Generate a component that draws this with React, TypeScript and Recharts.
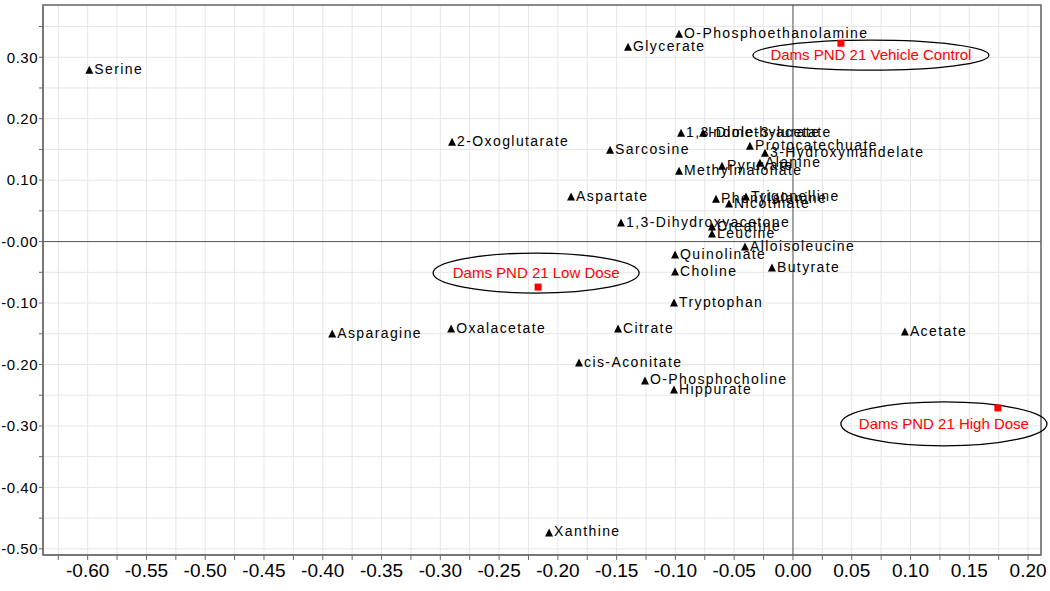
import React from 'react';
import { ScatterChart, Scatter, XAxis, YAxis, CartesianGrid, ReferenceLine, ReferenceArea } from 'recharts';

// loadings (metabolites)
const metabolites = [
  'Serine', 'O-Phosphoethanolamine', 'Glycerate', '2-Oxoglutarate', 'Sarcosine',
  '1,3-Dimethylurate', 'Indole-3-acetate', 'Protocatechuate', '3-Hydroxymandelate', 'Alanine',
  'Pyruvate', 'Methylmalonate', 'Aspartate', 'Phenylalanine', 'Trigonelline',
  'Nicotinate', '1,3-Dihydroxyacetone', 'Creatine', 'Leucine', 'Alloisoleucine',
  'Quinolinate', 'Choline', 'Butyrate', 'Tryptophan', 'Citrate',
  'Oxalacetate', 'Asparagine', 'cis-Aconitate', 'O-Phosphocholine', 'Hippurate',
  'Xanthine', 'Acetate',
];
const loadingX = [
  -0.5986, -0.0969, -0.1403, -0.29, -0.1556,
  -0.0952, -0.0765, -0.0366, -0.0238, -0.0281,
  -0.0604, -0.0969, -0.1888, -0.0655, -0.04,
  -0.0544, -0.1463, -0.0689, -0.0689, -0.0408,
  -0.1003, -0.1003, -0.0179, -0.1012, -0.1488,
  -0.2908, -0.392, -0.182, -0.1259, -0.1012,
  -0.2075, 0.0952,
];
const loadingY = [
  0.2789, 0.3374, 0.3163, 0.1618, 0.1488,
  0.1764, 0.1764, 0.1553, 0.1439, 0.1276,
  0.1228, 0.1146, 0.0724, 0.0691, 0.0724,
  0.061, 0.0301, 0.0236, 0.0122, -0.0089,
  -0.022, -0.0496, -0.0431, -0.1, -0.1423,
  -0.1423, -0.1504, -0.1976, -0.2268, -0.2415,
  -0.474, -0.1472,
];

// scores (groups)
const groups = ['Dams PND 21 Vehicle Control', 'Dams PND 21 Low Dose', 'Dams PND 21 High Dose'];
const scoreX = [0.0408, -0.2168, 0.1743];
const scoreY = [0.3228, -0.074, -0.2707];
const groupLabelX = [0.0663, -0.2185, 0.1284];
const groupLabelY = [0.3033, -0.0512, -0.2967];
const ellipseSize = [[118, 15], [103, 20], [103, 22]];

const xTicks = [
  -0.625, -0.6, -0.575, -0.55, -0.525, -0.5, -0.475, -0.45, -0.425, -0.4, -0.375, -0.35,
  -0.325, -0.3, -0.275, -0.25, -0.225, -0.2, -0.175, -0.15, -0.125, -0.1, -0.075, -0.05,
  -0.025, 0, 0.025, 0.05, 0.075, 0.1, 0.125, 0.15, 0.175, 0.2,
];
const yTicks = [
  -0.5, -0.45, -0.4, -0.35, -0.3, -0.25, -0.2, -0.15, -0.1, -0.05,
  0, 0.05, 0.1, 0.15, 0.2, 0.25, 0.3, 0.35,
];

const X_DOMAIN = [-0.638, 0.211];
const Y_DOMAIN = [-0.51, 0.385];
const FONT = '"Liberation Sans", Arial, sans-serif';

const loadingData = metabolites.map((name, i) => ({ name, x: loadingX[i], y: loadingY[i] }));
const scoreData = groups.map((name, i) => ({ name, x: scoreX[i], y: scoreY[i] }));
const groupLabelData = groups.map((name, i) => ({
  name, x: groupLabelX[i], y: groupLabelY[i], rx: ellipseSize[i][0], ry: ellipseSize[i][1],
}));

const isMajor = (v: number, step: number) => Math.abs(Math.round(v / step) * step - v) < 1e-6;

const formatX = (v: number) => (isMajor(v, 0.05) ? v.toFixed(2) : '');
const formatY = (v: number) => {
  if (!isMajor(v, 0.1)) return '';
  if (Math.abs(v) < 1e-9) return '-0.00';
  return v.toFixed(2);
};

const TriangleLabel = (props: any) => {
  const { cx, cy, payload } = props;
  return (
    <g>
      <path d={`M${cx},${cy - 4.5} L${cx + 4},${cy + 3.5} L${cx - 4},${cy + 3.5} Z`} fill="#000" />
      <text x={cx + 5} y={cy + 3.5} fontSize={14} letterSpacing={1.4} fill="#000" fontFamily={FONT}>
        {payload.name}
      </text>
    </g>
  );
};

const RedSquare = (props: any) => {
  const { cx, cy } = props;
  return <rect x={cx - 3.5} y={cy - 3.5} width={7} height={7} fill="#ff0000" />;
};

const GroupLabel = (props: any) => {
  const { cx, cy, payload } = props;
  return (
    <g>
      <ellipse cx={cx} cy={cy} rx={payload.rx} ry={payload.ry} fill="none" stroke="#000" strokeWidth={1.3} />
      <text x={cx} y={cy + 5} textAnchor="middle" fontSize={15} fill="#ff0000" fontFamily={FONT}>
        {payload.name}
      </text>
    </g>
  );
};

export default function App() {
  return (
    <div style={{ position: 'absolute', left: 0, top: 0, background: '#fff' }}>
      <ScatterChart width={1050} height={591} margin={{ top: 5, right: 9, left: 0, bottom: 0 }}>
        <CartesianGrid stroke="#e6e6e6" />
        <XAxis
          type="number"
          dataKey="x"
          domain={X_DOMAIN}
          ticks={xTicks}
          interval={0}
          tickFormatter={formatX}
          height={36}
          tickSize={5}
          tickMargin={4}
          axisLine={{ stroke: '#666' }}
          tickLine={{ stroke: '#666' }}
          tick={{ fill: '#000', fontSize: 19, fontFamily: '"Liberation Sans Narrow", "Liberation Sans", Arial' }}
        />
        <YAxis
          type="number"
          dataKey="y"
          domain={Y_DOMAIN}
          ticks={yTicks}
          interval={0}
          tickFormatter={formatY}
          width={43}
          tickSize={4}
          tickMargin={1}
          axisLine={{ stroke: '#666' }}
          tickLine={{ stroke: '#666' }}
          tick={{ fill: '#000', fontSize: 15, fontFamily: FONT, letterSpacing: 0.5 }}
        />
        <ReferenceArea
          x1={X_DOMAIN[0]}
          x2={X_DOMAIN[1]}
          y1={Y_DOMAIN[0]}
          y2={Y_DOMAIN[1]}
          fill="none"
          stroke="#666"
          strokeWidth={1.5}
        />
        <ReferenceLine x={0} stroke="#555" />
        <ReferenceLine y={0} stroke="#555" />
        <Scatter data={loadingData} shape={TriangleLabel} isAnimationActive={false} />
        <Scatter data={groupLabelData} shape={GroupLabel} isAnimationActive={false} />
        <Scatter data={scoreData} shape={RedSquare} isAnimationActive={false} />
      </ScatterChart>
    </div>
  );
}
